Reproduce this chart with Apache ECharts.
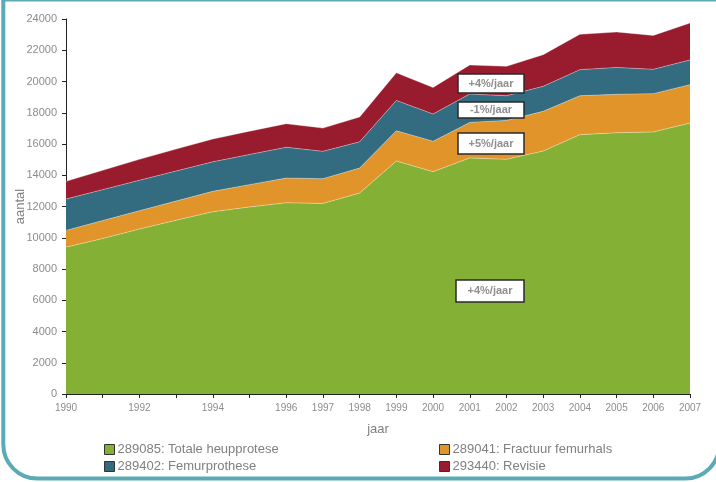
<!DOCTYPE html>
<html>
<head>
<meta charset="utf-8">
<script src="https://cdn.jsdelivr.net/npm/echarts@6/dist/echarts.min.js"></script>
<style>
  html, body { margin: 0; padding: 0; background: #fff; }
  #chart { width: 716px; height: 482px; }
</style>
</head>
<body>
<div id="chart"></div>
<script>
const years = ['1990', '1991', '1992', '1993', '1994', '1995', '1996', '1997', '1998',
    '1999', '2000', '2001', '2002', '2003', '2004', '2005', '2006', '2007'];
const hiddenYears = ['1991', '1993', '1995'];

// aantal per jaar, gestapeld
const totaleHeup = [9400, 9950, 10560, 11120, 11670, 11970, 12240, 12200, 12860,
    14910, 14230, 15110, 15020, 15550, 16600, 16720, 16770, 17340];
const fractuur = [1070, 1150, 1170, 1230, 1300, 1430, 1580, 1580, 1600,
    1940, 1940, 2270, 2490, 2540, 2490, 2460, 2450, 2460];
const femur = [2010, 1980, 1950, 1920, 1890, 1930, 1970, 1750, 1680,
    1940, 1750, 1820, 1580, 1600, 1670, 1720, 1560, 1580];
const revisie = [1130, 1240, 1340, 1410, 1460, 1490, 1510, 1490, 1590,
    1770, 1700, 1860, 1880, 2030, 2260, 2270, 2170, 2360];

const seriesNames = ['289085: Totale heupprotese', '289041: Fractuur femurhals',
    '289402: Femurprothese', '293440: Revisie'];
const colors = ['#84b135', '#e09429', '#336b80', '#981c2e'];

const trendLabels = ['+4%/jaar', '-1%/jaar', '+5%/jaar', '+4%/jaar'];

const chart = echarts.init(document.getElementById('chart'), null, { renderer: 'canvas' });

function areaSeries(i, data) {
    return {
        name: seriesNames[i],
        type: 'line',
        stack: 'totaal',
        data: data,
        symbol: 'none',
        smooth: false,
        itemStyle: { color: colors[i] },
        lineStyle: { width: 1, color: 'rgba(255,255,255,0.35)' },
        areaStyle: { color: colors[i], opacity: 1 },
        emphasis: { disabled: true }
    };
}

function trendBox(x, y, w, h, text) {
    return {
        type: 'group',
        x: x,
        y: y,
        z: 100,
        silent: true,
        children: [
            { type: 'rect', z: 100, shape: { x: 0, y: 0, width: w, height: h },
              style: { fill: '#fff', stroke: '#2a2a2a', lineWidth: 1.5 } },
            { type: 'text', z: 101, x: w / 2, y: h / 2,
              style: { text: text, fill: '#8f8f8f', font: 'bold 11px "Liberation Sans", Arial, sans-serif',
                       align: 'center', verticalAlign: 'middle' } }
        ]
    };
}

function legendFor(names, left) {
    return {
        data: names,
        orient: 'vertical', left: left, top: 438,
        icon: 'rect', itemWidth: 10, itemHeight: 10, itemGap: 4,
        itemStyle: { borderColor: '#333', borderWidth: 1 },
        textStyle: { color: '#808080', fontSize: 13, padding: [0, 0, 0, -2] },
        selectedMode: false
    };
}

const option = {
    animation: false,
    textStyle: { fontFamily: '"Liberation Sans", Arial, sans-serif' },
    grid: { left: 66, right: 26, top: 19, bottom: 88, containLabel: false, outerBoundsMode: 'none' },
    legend: [
        legendFor([seriesNames[0], seriesNames[2]], 99),
        legendFor([seriesNames[1], seriesNames[3]], 434)
    ],
    xAxis: {
        type: 'category',
        data: years,
        boundaryGap: false,
        name: 'jaar',
        nameLocation: 'middle',
        nameGap: 29,
        nameMoveOverlap: false,
        nameTextStyle: { color: '#808080', fontSize: 13 },
        axisLine: { lineStyle: { color: '#222', width: 1 } },
        axisTick: { interval: 0, length: 4, lineStyle: { color: '#222' } },
        axisLabel: {
            interval: function (idx, val) { return hiddenYears.indexOf(val) < 0; },
            color: '#8c8c8c', fontSize: 10, margin: 9
        },
        splitLine: { show: false }
    },
    yAxis: {
        type: 'value',
        min: 0,
        max: 24000,
        interval: 2000,
        name: 'aantal',
        nameLocation: 'middle',
        nameGap: 46,
        nameMoveOverlap: false,
        nameTextStyle: { color: '#808080', fontSize: 13, verticalAlign: 'middle' },
        axisLine: { show: true, lineStyle: { color: '#222', width: 1 } },
        axisTick: { show: true, length: 4, lineStyle: { color: '#222' } },
        axisLabel: {
            color: '#8c8c8c', fontSize: 11, margin: 9,
            formatter: function (v) { return String(v); }
        },
        splitLine: { show: false }
    },
    series: [
        areaSeries(0, totaleHeup),
        areaSeries(1, fractuur),
        areaSeries(2, femur),
        areaSeries(3, revisie)
    ],
    graphic: [
        {
            type: 'rect', x: 3.3, y: -0.5, z: 100, silent: true,
            shape: { x: 0, y: 0, width: 716, height: 479, r: [0, 0, 34, 34] },
            style: { fill: 'none', stroke: '#5aabb5', lineWidth: 4 }
        },
        trendBox(458, 74, 66, 19, trendLabels[0]),
        trendBox(458, 102, 66, 16, trendLabels[1]),
        trendBox(458, 133, 66, 21, trendLabels[2]),
        trendBox(456, 280, 68, 22, trendLabels[3])
    ]
};

chart.setOption(option);
</script>
</body>
</html>
